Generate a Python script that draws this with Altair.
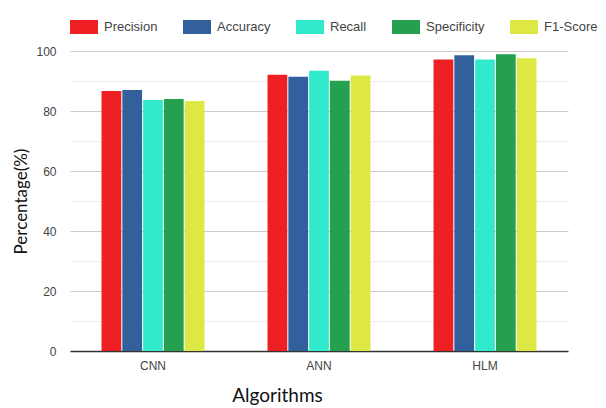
import altair as alt
import pandas as pd

algorithms = ["CNN", "ANN", "HLM"]
metrics = ["Precision", "Accuracy", "Recall", "Specificity", "F1-Score"]
precision = [86.7, 92.1, 97.2]
accuracy = [87.0, 91.4, 98.6]
recall = [83.7, 93.4, 97.2]
specificity = [84.0, 90.1, 98.9]
f1_score = [83.3, 91.8, 97.6]
colors = ["#ee2024", "#32609c", "#31e9cb", "#24a04f", "#dde845"]

series = [precision, accuracy, recall, specificity, f1_score]
rows = []
for m, vals in zip(metrics, series):
    for a, v in zip(algorithms, vals):
        rows.append({"Algorithm": a, "Metric": m, "Value": v})
df = pd.DataFrame(rows)

chart = alt.Chart(df).mark_bar().encode(
    x=alt.X("Algorithm:N", sort=algorithms,
            scale=alt.Scale(paddingInner=0.38, paddingOuter=0.19),
            axis=alt.Axis(title="Algorithms", labelAngle=0, ticks=False,
                          labelPadding=9, labelFontSize=12, labelColor="#444",
                          labelFont="Liberation Sans",
                          domainColor="#333", domainWidth=1.5,
                          titleFont="Lato", titleFontSize=19, titleFontWeight="normal",
                          titleColor="#111", titleX=207, titleY=50,
                          titleBaseline="alphabetic", titleAnchor="middle")),
    xOffset=alt.XOffset("Metric:N", sort=metrics, scale=alt.Scale(paddingInner=0.05)),
    y=alt.Y("Value:Q", scale=alt.Scale(domain=[0, 100], nice=False),
            axis=alt.Axis(title="Percentage(%)",
                          values=[0, 10, 20, 30, 40, 50, 60, 70, 80, 90, 100],
                          labelExpr="datum.value % 20 === 0 ? datum.label : ''",
                          ticks=False, domain=False, labelPadding=14,
                          labelFontSize=12, labelColor="#444", labelFont="Liberation Sans",
                          gridColor=alt.condition("datum.value % 20 === 0",
                                                  alt.value("#cccccc"), alt.value("#ececec")),
                          gridWidth=1,
                          titleFont="Lato", titleFontSize=17, titleFontWeight="normal",
                          titleColor="#111", titleX=-40, titleY=150,
                          titleBaseline="bottom", titleAngle=-90, titleAlign="center")),
    color=alt.Color("Metric:N", sort=metrics,
                    scale=alt.Scale(domain=metrics, range=colors),
                    legend=alt.Legend(title=None, orient="none", direction="horizontal",
                                      legendX=0, legendY=-38,
                                      symbolType="M-1,-0.5H1V0.5H-1Z", symbolSize=784,
                                      symbolStrokeWidth=0, symbolOpacity=1,
                                      labelFontSize=13, labelColor="#444",
                                      labelFont="Liberation Sans", labelOffset=6,
                                      columnPadding=25)),
).properties(
    width=498, height=300,
    autosize=alt.AutoSizeParams(type="none"),
    padding={"left": 62, "top": 43, "right": 30, "bottom": 57},
).configure_view(stroke=None)

chart.save("out.html", embed_options={"renderer": "svg", "actions": False})
